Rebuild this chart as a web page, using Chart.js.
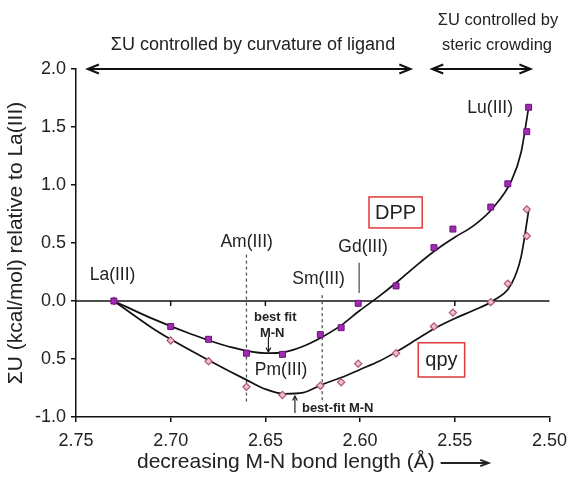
<!DOCTYPE html>
<html lang="en">
<head>
<meta charset="UTF-8">
<title>ΣU vs M-N bond length</title>
<script src="https://cdn.jsdelivr.net/npm/chart.js"></script>
<style>
  html, body { margin: 0; padding: 0; background: #fff; }
  #wrap { width: 575px; height: 477px; }
</style>
</head>
<body>
<div id="wrap"><canvas id="energyChart" width="575" height="477"></canvas></div>
<script>
// M-N bond length (Å) and ΣU relative to La(III) (kcal/mol)
const dppBond   = [2.730, 2.700, 2.680, 2.660, 2.641, 2.621, 2.610, 2.601, 2.581, 2.561, 2.551, 2.531, 2.522, 2.512, 2.511];
const dppEnergy = [0.00, -0.22, -0.33, -0.45, -0.46, -0.29, -0.23, -0.02, 0.13, 0.46, 0.62, 0.81, 1.01, 1.46, 1.67];
const qpyBond   = [2.730, 2.700, 2.680, 2.660, 2.641, 2.621, 2.610, 2.601, 2.581, 2.561, 2.551, 2.531, 2.522, 2.512, 2.512];
const qpyEnergy = [0.00, -0.34, -0.52, -0.74, -0.81, -0.73, -0.70, -0.54, -0.45, -0.22, -0.10, -0.01, 0.15, 0.56, 0.79];

// trend lines through each series
const dppFitBond   = [2.730, 2.710, 2.690, 2.670, 2.650, 2.640, 2.630, 2.620, 2.610, 2.600, 2.590, 2.580, 2.570, 2.560, 2.550, 2.540, 2.530, 2.520, 2.515, 2.511];
const dppFitEnergy = [0.00, -0.15, -0.28, -0.39, -0.45, -0.44, -0.39, -0.31, -0.21, -0.08, 0.04, 0.17, 0.31, 0.44, 0.55, 0.65, 0.80, 1.04, 1.28, 1.67];
const qpyFitBond   = [2.730, 2.710, 2.700, 2.680, 2.660, 2.650, 2.640, 2.630, 2.620, 2.610, 2.600, 2.590, 2.580, 2.570, 2.560, 2.550, 2.540, 2.530, 2.520, 2.515, 2.511];
const qpyFitEnergy = [0.00, -0.23, -0.33, -0.51, -0.68, -0.76, -0.80, -0.79, -0.72, -0.66, -0.59, -0.52, -0.43, -0.33, -0.23, -0.15, -0.08, 0.00, 0.15, 0.38, 0.78];

const bondTicks = [2.75, 2.70, 2.65, 2.60, 2.55, 2.50];
const energyTicks = [-1.0, -0.5, 0.0, 0.5, 1.0, 1.5, 2.0];
const energyTickLabels = ['-1.0', '0.5', '0.0', '0.5', '1.0', '1.5', '2.0'];

const FONT = "'Liberation Sans', Arial, sans-serif";
Chart.defaults.font.family = FONT;
Chart.defaults.color = '#222';

const pts = (xs, ys) => xs.map((v, i) => ({ x: v, y: ys[i] }));

function line(ctx, x1, y1, x2, y2) {
  ctx.beginPath(); ctx.moveTo(x1, y1); ctx.lineTo(x2, y2); ctx.stroke();
}

// open chevron head at (x, y) pointing along angle a
function chevron(ctx, x, y, a, len, spread) {
  ctx.beginPath();
  ctx.moveTo(x - len * Math.cos(a - spread), y - len * Math.sin(a - spread));
  ctx.lineTo(x, y);
  ctx.lineTo(x - len * Math.cos(a + spread), y - len * Math.sin(a + spread));
  ctx.stroke();
}

function doubleArrow(ctx, x1, x2, y) {
  line(ctx, x1, y, x2, y);
  chevron(ctx, x1, y, Math.PI, 12, 0.38);
  chevron(ctx, x2, y, 0, 12, 0.38);
}

const notes = {
  id: 'notes',
  beforeDatasetsDraw(chart) {
    const { ctx, chartArea: a, scales: { x, y } } = chart;
    ctx.save();
    // zero reference line with its own tick marks
    ctx.strokeStyle = '#111';
    ctx.lineWidth = 1.5;
    const y0 = y.getPixelForValue(0);
    line(ctx, a.left, y0, a.right, y0);
    bondTicks.slice(1, -1).forEach(v => {
      const px = x.getPixelForValue(v);
      line(ctx, px, y0, px, y0 + 5);
    });

    // Am(III) and Sm(III) markers
    ctx.strokeStyle = '#555';
    ctx.lineWidth = 1.3;
    ctx.setLineDash([3, 3]);
    [[2.660, 0.40], [2.620, 0.05]].forEach(([b, top]) => {
      const px = x.getPixelForValue(b);
      line(ctx, px, y.getPixelForValue(top), px, y.getPixelForValue(-0.88));
    });
    ctx.setLineDash([]);
    // Gd(III) marker
    const gx = x.getPixelForValue(2.6005);
    line(ctx, gx, y.getPixelForValue(0.33), gx, y.getPixelForValue(0.07));
    ctx.restore();
  },
  afterDatasetsDraw(chart) {
    const { ctx, scales: { x, y } } = chart;
    const X = v => x.getPixelForValue(v);
    const Y = v => y.getPixelForValue(v);
    ctx.save();
    ctx.fillStyle = '#222';
    ctx.textAlign = 'center';
    ctx.textBaseline = 'middle';

    // region headings above the plot
    ctx.font = '18px ' + FONT;
    ctx.fillText('ΣU controlled by curvature of ligand', 253, 45);
    ctx.font = '16.5px ' + FONT;
    ctx.fillText('ΣU controlled by', 498, 20);
    ctx.fillText('steric crowding', 497, 45);
    ctx.strokeStyle = '#111';
    ctx.lineWidth = 2;
    doubleArrow(ctx, X(2.7438), X(2.5734), Y(2.0));
    doubleArrow(ctx, X(2.5620), X(2.5100), Y(2.0));

    // metal labels
    ctx.font = '17.5px ' + FONT;
    ctx.fillText('La(III)', X(2.7307), Y(0.22));
    ctx.fillText('Am(III)', X(2.6599), Y(0.51));
    ctx.fillText('Sm(III)', X(2.6219), Y(0.19));
    ctx.fillText('Gd(III)', X(2.5984), Y(0.46));
    ctx.fillText('Lu(III)', X(2.5313), Y(1.66));
    ctx.fillText('Pm(III)', X(2.6417), Y(-0.595));

    // series tags in red boxes
    ctx.font = '20px ' + FONT;
    ctx.strokeStyle = '#e03a3a';
    ctx.lineWidth = 1.5;
    [['DPP', 2.5953, 2.5672, 0.897, 0.63], ['qpy', 2.5693, 2.5448, -0.36, -0.655]].forEach(([t, b1, b2, e1, e2]) => {
      ctx.strokeRect(X(b1), Y(e1), X(b2) - X(b1), Y(e2) - Y(e1));
      ctx.fillText(t, (X(b1) + X(b2)) / 2, (Y(e1) + Y(e2)) / 2 + 1);
    });

    // best-fit bond length pointers
    ctx.font = 'bold 13px ' + FONT;
    ctx.fillText('best fit', X(2.6448), Y(-0.14));
    ctx.fillText('M-N', X(2.6464), Y(-0.28));
    ctx.strokeStyle = '#222';
    ctx.lineWidth = 1.2;
    const ax = X(2.6484);
    line(ctx, ax, Y(-0.31), ax, Y(-0.44));
    chevron(ctx, ax, Y(-0.44), Math.PI / 2, 5, 0.5);
    const bx = X(2.6344);
    line(ctx, bx, Y(-0.965), bx, Y(-0.82));
    chevron(ctx, bx, Y(-0.82), -Math.PI / 2, 5, 0.5);
    ctx.textAlign = 'left';
    ctx.fillText('best-fit M-N', bx + 7, Y(-0.93));

    // x axis title with trailing arrow
    ctx.font = '21px ' + FONT;
    const title = 'decreasing M-N bond length (Å)';
    const tx = 137, ty = 462;
    ctx.fillText(title, tx, ty);
    const ex = tx + ctx.measureText(title).width + 6;
    ctx.lineWidth = 1.8;
    line(ctx, ex, ty + 1, ex + 48, ty + 1);
    chevron(ctx, ex + 48, ty + 1, 0, 9, 0.35);
    ctx.restore();
  }
};

new Chart(document.getElementById('energyChart'), {
  type: 'scatter',
  data: {
    datasets: [
      {
        label: 'DPP',
        data: pts(dppBond, dppEnergy),
        pointStyle: 'rect',
        pointRadius: 4.2,
        backgroundColor: '#a02cb0',
        borderColor: '#6e0f80',
        borderWidth: 1
      },
      {
        label: 'qpy',
        data: pts(qpyBond, qpyEnergy),
        pointStyle: 'rectRot',
        pointRadius: 3.6,
        backgroundColor: '#ecc0d0',
        borderColor: '#b25475',
        borderWidth: 1.2
      },
      {
        label: 'DPP fit',
        data: pts(dppFitBond, dppFitEnergy),
        showLine: true,
        pointRadius: 0,
        borderColor: '#111',
        borderWidth: 1.7,
        cubicInterpolationMode: 'monotone'
      },
      {
        label: 'qpy fit',
        data: pts(qpyFitBond, qpyFitEnergy),
        showLine: true,
        pointRadius: 0,
        borderColor: '#111',
        borderWidth: 1.7,
        cubicInterpolationMode: 'monotone'
      }
    ]
  },
  options: {
    responsive: false,
    animation: false,
    devicePixelRatio: 1,
    layout: { padding: { top: 69, right: 19, left: 0, bottom: 0 } },
    plugins: { legend: { display: false }, tooltip: { enabled: false } },
    scales: {
      x: {
        type: 'linear',
        reverse: true,
        min: 2.50,
        max: 2.75,
        afterFit: s => { s.height = 60; },
        afterBuildTicks: s => { s.ticks = bondTicks.map(v => ({ value: v })); },
        ticks: {
          font: { size: 18 },
          padding: 8,
          maxRotation: 0,
          callback: v => v.toFixed(2)
        },
        grid: { drawOnChartArea: false, drawTicks: true, tickLength: 5, color: '#111', lineWidth: 1.5 },
        border: { display: true, color: '#111', width: 1.5 }
      },
      y: {
        type: 'linear',
        min: -1.0,
        max: 2.0,
        afterFit: s => { s.width = 76; },
        afterBuildTicks: s => { s.ticks = energyTicks.map(v => ({ value: v })); },
        ticks: {
          font: { size: 18 },
          padding: 5,
          callback: v => energyTickLabels[energyTicks.indexOf(v)]
        },
        grid: { drawOnChartArea: false, drawTicks: true, tickLength: 5, color: '#111', lineWidth: 1.5 },
        border: { display: true, color: '#111', width: 1.5 },
        title: {
          display: true,
          text: 'ΣU (kcal/mol) relative to La(III)',
          font: { size: 21 },
          color: '#222',
          padding: { top: 4, bottom: 0 }
        }
      }
    }
  },
  plugins: [notes]
});
</script>
</body>
</html>
